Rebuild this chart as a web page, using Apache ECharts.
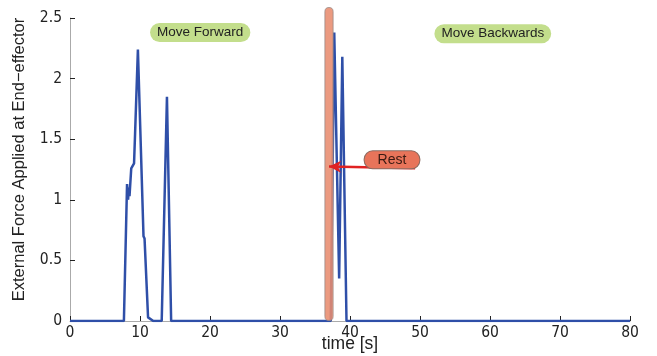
<!DOCTYPE html>
<html>
<head>
<meta charset="utf-8">
<script src="https://cdn.jsdelivr.net/npm/echarts@6/dist/echarts.min.js"></script>
<style>
  html, body { margin: 0; padding: 0; background: #fff; }
  #chart { width: 657px; height: 356px; }
</style>
</head>
<body>
<div id="chart"></div>
<script>
// force trace
const time = [0, 7.7, 8.15, 8.3, 8.4, 8.5, 8.75, 9.15, 9.3, 9.7, 9.95, 10.5, 10.65, 11.15, 11.3, 11.9,
  13.1, 13.85, 13.95, 14.45, 37.25, 37.75, 38.45, 38.9, 39.5, 80]
const force = [0, 0, 1.13, 1.0, 1.1, 1.03, 1.26, 1.3, 1.55, 2.24, 2.24, 0.7, 0.68, 0.03, 0.02, 0,
  0, 1.85, 1.85, 0, 0, 2.38, 0.35, 2.18, 0, 0]

const yTicks = [0, 0.5, 1, 1.5, 2, 2.5]
const xTicks = [0, 10, 20, 30, 40, 50, 60, 70, 80]

// rest phase marker
const restTime = 37.0
const restTop = 2.59

// annotations [label, x, y]
const phaseLabels = [
  ['Move Forward', 18.6, 2.38],
  ['Move Backwards', 60.4, 2.37]
]
const restLabel = ['Rest', 46.0, 1.33]
const arrowFrom = [49.3, 1.26]
const arrowTo = [37.0, 1.275]

const chart = echarts.init(document.getElementById('chart'), null, { renderer: 'canvas' })

const tickFont = {
  color: '#222',
  fontFamily: 'DejaVu Sans Condensed',
  fontSize: 15.5
}

const option = {
  animation: false,
  grid: { left: 70, right: 27, top: 18, bottom: 35, outerBoundsMode: 'none', containLabel: false },
  xAxis: {
    type: 'value',
    min: xTicks[0],
    max: xTicks[xTicks.length - 1],
    interval: 10,
    name: 'time [s]',
    nameLocation: 'middle',
    nameGap: 14,
    nameMoveOverlap: false,
    nameTextStyle: { color: '#222', fontFamily: 'Liberation Sans', fontSize: 17.5 },
    axisLine: { lineStyle: { color: '#aaa', width: 1 } },
    axisTick: { inside: true, length: 5, lineStyle: { color: '#222' } },
    axisLabel: { ...tickFont, margin: 4 },
    splitLine: { show: false }
  },
  yAxis: {
    type: 'value',
    min: yTicks[0],
    max: yTicks[yTicks.length - 1],
    interval: 0.5,
    name: 'External Force Applied at End\u2212effector',
    nameLocation: 'middle',
    nameGap: 42,
    nameMoveOverlap: false,
    nameTextStyle: { color: '#222', fontFamily: 'Liberation Sans', fontSize: 16.5, padding: [0, 0, 0, 20] },
    axisLine: { show: true, lineStyle: { color: '#aaa', width: 1 } },
    axisTick: { show: true, inside: true, length: 5, lineStyle: { color: '#222' } },
    axisLabel: { ...tickFont, margin: 8 },
    splitLine: { show: false }
  },
  series: [
    {
      type: 'line',
      data: time.map((t, i) => [t, force[i]]),
      symbol: 'none',
      z: 3,
      lineStyle: { color: '#2F4FA8', width: 2.5 },
      markPoint: {
        symbolSize: 0,
        data: phaseLabels.map(p => ({
          coord: [p[1], p[2]],
          label: {
            show: true,
            formatter: p[0],
            color: '#222',
            fontFamily: 'Liberation Sans',
            fontSize: 13.5,
            backgroundColor: '#C3DE8C',
            borderRadius: 10,
            padding: [3, 7, 2, 7]
          }
        })).concat([{
          coord: [restLabel[1], restLabel[2]],
          label: {
            show: true,
            formatter: restLabel[0],
            color: '#3a1a12',
            fontFamily: 'Liberation Sans',
            fontSize: 14,
            backgroundColor: '#E8745A',
            borderColor: '#8a6a60',
            borderWidth: 1,
            borderRadius: 8,
            padding: [2, 13, 1, 13]
          }
        }])
      },
      markLine: {
        silent: true,
        symbol: ['none', 'arrow'],
        symbolSize: [9, 12],
        label: { show: false },
        lineStyle: { color: '#E02222', width: 2.5, type: 'solid' },
        data: [[{ coord: arrowFrom }, { coord: arrowTo }]]
      }
    },
    {
      type: 'bar',
      data: [[restTime, restTop]],
      barWidth: 9,
      clip: false,
      z: 4,
      itemStyle: {
        color: 'rgba(232, 140, 110, 0.88)',
        borderColor: '#9a8a88',
        borderWidth: 0.8,
        borderRadius: 4.5
      }
    }
  ]
}

chart.setOption(option)
</script>
</body>
</html>
